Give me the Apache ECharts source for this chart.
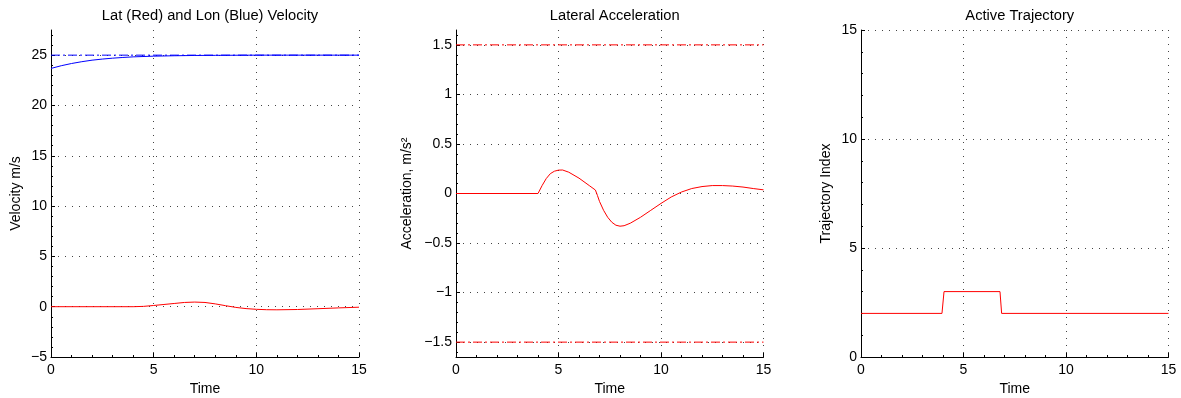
<!DOCTYPE html>
<html>
<head>
<meta charset="utf-8">
<script src="https://cdn.jsdelivr.net/npm/echarts@6/dist/echarts.min.js"></script>
<style>
  html, body { margin: 0; padding: 0; background: #fff; }
  #chart { width: 1181px; height: 398px; }
</style>
</head>
<body>
<div id="chart"></div>
<script>
// ---- Longitudinal / lateral velocity (m/s) ----
const lonTime = [0, 0.5, 1, 1.5, 2, 2.5, 3, 3.5, 4, 5, 6, 7, 8, 10, 12, 15];
const lonVel  = [23.68, 23.95, 24.17, 24.35, 24.5, 24.61, 24.7, 24.77, 24.83, 24.9, 24.94, 24.97, 24.98, 25, 25, 25];
const lonRefTime = [0, 15];
const lonRef     = [25, 25];

const latTime = [0, 4, 4.5, 5, 5.5, 6, 6.5, 7, 7.5, 8, 8.5, 9, 9.5, 10, 10.5, 11, 12, 13, 14, 15];
const latVel  = [0, 0, 0.03, 0.12, 0.22, 0.32, 0.42, 0.46, 0.42, 0.28, 0.1, -0.07, -0.19, -0.26, -0.3, -0.31, -0.28, -0.2, -0.12, -0.05];

// ---- Lateral acceleration (m/s^2) ----
const accTime = [0, 4, 4.2, 4.4, 4.6, 4.8, 5, 5.2, 5.5, 6, 6.5, 6.8, 6.9, 7, 7.2, 7.4, 7.6, 7.8, 8, 8.2, 8.5, 9, 9.5, 10, 10.5, 11, 11.5, 12, 12.5, 13, 13.5, 14, 14.5, 15];
const latAcc  = [0, 0, 0.08, 0.15, 0.2, 0.225, 0.236, 0.237, 0.215, 0.155, 0.08, 0.035, -0.02, -0.08, -0.17, -0.24, -0.29, -0.32, -0.33, -0.325, -0.3, -0.24, -0.17, -0.1, -0.035, 0.015, 0.05, 0.07, 0.08, 0.08, 0.075, 0.065, 0.05, 0.037];
const accLimitTime = [0, 15];
const accLimitHigh = [1.5, 1.5];
const accLimitLow  = [-1.5, -1.5];

// ---- Active trajectory index ----
const trajTime  = [0, 3.95, 4.05, 6.78, 6.86, 15];
const trajIndex = [2, 2, 3, 3, 2, 2];

// ---- Axis ticks ----
const timeTicks = [0, 5, 10, 15];
const velTicks  = [-5, 0, 5, 10, 15, 20, 25];
const accTicks  = [-1.5, -1, -0.5, 0, 0.5, 1, 1.5];
const trajTicks = [0, 5, 10, 15];

const titles = ['Lat (Red) and Lon (Blue) Velocity', 'Lateral Acceleration', 'Active Trajectory'];
const yNames = ['Velocity m/s', 'Acceleration, m/s\u00B2', 'Trajectory Index'];

const FONT = 'Liberation Sans, Arial, Helvetica, sans-serif';
const pairs = (xs, ys) => xs.map((x, i) => [x, ys[i]]);
const minus = v => String(v).replace('-', '\u2212');

const grids = [
  { left: 51,  top: 30, width: 308, height: 327, outerBoundsMode: 'none' },
  { left: 456, top: 30, width: 307.5, height: 327, outerBoundsMode: 'none' },
  { left: 861, top: 30, width: 307.5, height: 327, outerBoundsMode: 'none' }
];

const gridLine = { show: true, lineStyle: { color: '#444', width: 1, type: [1, 6] } };

function xAxisFor(i) {
  return {
    type: 'value', gridIndex: i, min: 0, max: 15, splitNumber: 3,
    name: 'Time', nameLocation: 'middle', nameGap: 23,
    nameTextStyle: { fontFamily: FONT, fontSize: 14, color: '#000' },
    axisLine: { show: true, onZero: false, lineStyle: { color: '#000', width: 1 } },
    axisTick: { show: true, inside: true, length: 4, customValues: timeTicks, lineStyle: { color: '#000' } },
    minorTick: { show: true, splitNumber: 5, length: 2, lineStyle: { color: '#000' } },
    axisLabel: { customValues: timeTicks, margin: 6, fontFamily: FONT, fontSize: 14, color: '#000', formatter: minus },
    splitLine: gridLine
  };
}

function yAxisFor(i, min, max, ticks, splitNumber, nameGap) {
  return {
    type: 'value', gridIndex: i, min: min, max: max, splitNumber: splitNumber,
    name: yNames[i], nameLocation: 'middle', nameGap: nameGap,
    nameTextStyle: { fontFamily: FONT, fontSize: 14, color: '#000' },
    axisLine: { show: true, onZero: false, lineStyle: { color: '#000', width: 1 } },
    axisTick: { show: true, inside: true, length: 4, customValues: ticks, lineStyle: { color: '#000' } },
    minorTick: { show: true, splitNumber: 5, length: 2, lineStyle: { color: '#000' } },
    axisLabel: { customValues: ticks, margin: 4, fontFamily: FONT, fontSize: 14, color: '#000', formatter: minus },
    splitLine: gridLine
  };
}

const solid = (color) => ({ color: color, width: 1, type: 'solid' });
const dashDot = (color) => ({ color: color, width: 1, type: [9, 3, 2, 3] });

function line(xi, data, style, z) {
  return {
    type: 'line', xAxisIndex: xi, yAxisIndex: xi, data: data,
    showSymbol: false, symbol: 'none', animation: false, z: z || 2,
    lineStyle: style, itemStyle: { color: style.color }
  };
}

const option = {
  backgroundColor: '#fff',
  animation: false,
  title: titles.map((t, i) => ({
    text: t,
    left: grids[i].left + grids[i].width / 2,
    top: 3,
    textAlign: 'center',
    textStyle: { fontFamily: FONT, fontSize: 14.7, fontWeight: 'normal', color: '#000' }
  })),
  grid: grids,
  xAxis: [xAxisFor(0), xAxisFor(1), xAxisFor(2)],
  yAxis: [
    yAxisFor(0, -5, 27.5, velTicks, 6, 28),
    yAxisFor(1, -1.65, 1.65, accTicks, 6, 42),
    yAxisFor(2, 0, 15, trajTicks, 3, 28)
  ],
  series: [
    line(0, pairs(lonRefTime, lonRef), dashDot('#0000ff'), 2),
    line(0, pairs(lonTime, lonVel), solid('#0000ff'), 3),
    line(0, pairs(latTime, latVel), solid('#ff0000'), 3),
    line(1, pairs(accLimitTime, accLimitHigh), dashDot('#ff0000'), 2),
    line(1, pairs(accLimitTime, accLimitLow), dashDot('#ff0000'), 2),
    line(1, pairs(accTime, latAcc), solid('#ff0000'), 3),
    line(2, pairs(trajTime, trajIndex), solid('#ff0000'), 3)
  ]
};

const chart = echarts.init(document.getElementById('chart'), null, { renderer: 'canvas' });
chart.setOption(option);
</script>
</body>
</html>
